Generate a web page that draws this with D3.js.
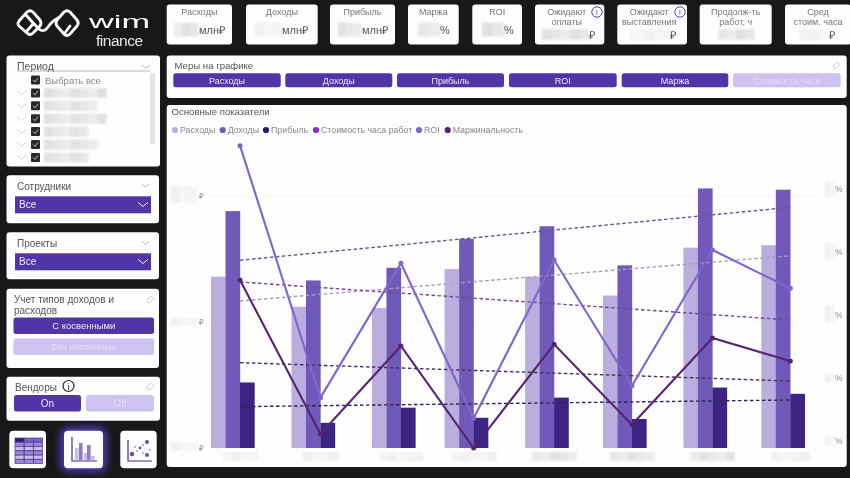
<!DOCTYPE html>
<html>
<head>
<meta charset="utf-8">
<script src="https://cdn.jsdelivr.net/npm/d3@7"></script>
<style>
  html, body { margin: 0; padding: 0; background: #18181a; overflow: hidden; }
  svg { display: block; filter: blur(0.35px); }
  text { font-family: "Liberation Sans", Arial, sans-serif; }
</style>
</head>
<body>
<svg id="dash" width="850" height="478"></svg>
<script>
// month starts, the axis is a real date axis (the february gap is narrower)
var months = ["2022-12-01", "2023-01-01", "2023-02-01", "2023-03-01", "2023-04-01", "2023-05-01", "2023-06-01", "2023-07-01"];

// left axis series
var expenses = [1.36, 1.12, 1.11, 1.42, 1.36, 1.21, 1.59, 1.61];
var income = [1.88, 1.33, 1.43, 1.66, 1.76, 1.45, 2.06, 2.05];
var profit = [0.52, 0.20, 0.32, 0.24, 0.40, 0.23, 0.48, 0.43];

// right axis series
var roi = [117.2, 17.2, 70.5, 9, 71.8, 21.9, 75.8, 60.6];
var margin = [63.9, 2.8, 37.7, -2.8, 38.4, 6.5, 40.9, 31.7];

// trend lines, first and last month
var incomeTrend = [1.49, 1.91];
var expensesTrend = [1.167, 1.526];
var profitTrend = [0.328, 0.381];
var roiTrend = [63.1, 48];
var marginTrend = [31.1, 23.8];

var leftTicks = [0, 1, 2];
var rightTicks = [0, 25, 50, 75, 100];

var legendNames = ["Расходы", "Доходы", "Прибыль", "Стоимость часа работ", "ROI", "Маржинальность"];
var measureNames = ["Расходы", "Доходы", "Прибыль", "ROI", "Маржа", "Стоимость часа"];

var DARK = "#4f35a5", LIGHT = "#cdc2f0", PANEL = "#fefdff", INK = "#444", GREY = "#777";
var C_EXP = "#b9aedd", C_INC = "#7059b9", C_PROF = "#3c2582", C_ROI = "#8065cb", C_MARG = "#55246f";
var legendColors = [C_EXP, C_INC, "#2a1a74", "#8a2bd0", C_ROI, C_MARG];

var svg = d3.select("#dash");
var defs = svg.append("defs");
defs.append("filter").attr("id", "soft").append("feGaussianBlur").attr("stdDeviation", 0.9);
var glowF = defs.append("filter").attr("id", "glow").attr("x", "-40%").attr("y", "-40%").attr("width", "180%").attr("height", "180%");
glowF.append("feGaussianBlur").attr("stdDeviation", 4);

function panel(x0, y0, x1, y1, r) {
  return svg.append("rect").attr("x", x0).attr("y", y0).attr("width", x1 - x0).attr("height", y1 - y0)
    .attr("rx", r || 3).attr("fill", PANEL);
}

function label(x, y, s, size, color, anchor, g) {
  return (g || svg).append("text").attr("x", x).attr("y", y).text(s)
    .attr("font-size", size).attr("fill", color || INK).attr("text-anchor", anchor || "start");
}

// mosaic for the values that are blurred out in the picture
var shades = ["#ececee", "#f4f4f5", "#e1e1e3", "#f0f0f1", "#e7e7e9", "#f6f6f7"];
function redact(x, y, w, h, g) {
  var n = Math.max(2, Math.round(w / 9));
  var box = (g || svg).append("g").attr("filter", "url(#soft)");
  d3.range(n).forEach(function(i) {
    box.append("rect").attr("x", x + i * w / n).attr("y", y).attr("width", w / n + 0.5).attr("height", h)
      .attr("fill", shades[(i * 2 + Math.round(x)) % shades.length]);
  });
}

function chevron(x, y, w, color, sw) {
  svg.append("path").attr("d", d3.line()([[x, y], [x + w / 2, y + w * 0.42], [x + w, y]]))
    .attr("fill", "none").attr("stroke", color).attr("stroke-width", sw || 0.8);
}

function button(x0, y0, x1, y1, s, on, size) {
  panel(x0, y0, x1, y1, 2.5).attr("fill", on ? DARK : LIGHT);
  label((x0 + x1) / 2, (y0 + y1) / 2 + 3.5, s, size || 9.5, on ? "#eee9fb" : "#e4dcf8", "middle");
}

function eraser(x, y) {
  svg.append("path").attr("d", "M" + (x - 4) + "," + (y + 1) + "l4,-4l3,2.5l-4,4h-2z")
    .attr("fill", "none").attr("stroke", "#bbb").attr("stroke-width", 0.7);
}

function info(x, y, r) {
  svg.append("circle").attr("cx", x).attr("cy", y).attr("r", r).attr("fill", "#fff").attr("stroke", "#5a3fb0").attr("stroke-width", 1);
  label(x, y + 3, "i", 8, "#5a3fb0", "middle");
}

// logo
var logo = svg.append("g").attr("fill", "none").attr("stroke", "#fff").attr("stroke-width", 2.8).attr("stroke-linejoin", "round").attr("stroke-linecap", "round");
logo.append("path").attr("d", "M19,21 L27,12 Q30,9.5 33,12 L40,20 Q42,23 40,26 L33,33 Q30,36 27,33 L19,26 Q17,23.5 19,21 Z");
logo.append("path").attr("d", "M57,20 L64,12 Q67,9.5 70,12 L77,20 Q79.5,23 77,26 L70,34 Q67,37 64,34 L57,26 Q55,23 57,20 Z");
logo.append("path").attr("d", "M26,15 Q33,23 39,29 Q44,33 48,27 Q52,21 58,18");
logo.append("path").attr("d", "M26,32 L33,24 M64,34 L70,26");
svg.append("text").attr("x", 89).attr("y", 28).text("wim").attr("font-size", 18).attr("fill", "#fff")
  .attr("textLength", 61).attr("lengthAdjust", "spacingAndGlyphs").attr("font-family", "DejaVu Sans");
label(96, 46, "finance", 15.5, "#e8e8e8").attr("font-family", "Open Sans").attr("textLength", 47);

// kpi cards
var kpis = [
  { x0: 166.7, x1: 232, t: ["Расходы"], b: [174, 24], unit: "млн₽", ux: 199 },
  { x0: 246, x1: 317.7, t: ["Доходы"], b: [255, 28], unit: "млн₽", ux: 282 },
  { x0: 330, x1: 395, t: ["Прибыль"], b: [338, 23], unit: "млн₽", ux: 362 },
  { x0: 408, x1: 458.7, t: ["Маржа"], b: [418, 22], unit: "%", ux: 440 },
  { x0: 472.3, x1: 522, t: ["ROI"], b: [482, 22], unit: "%", ux: 504 },
  { x0: 535, x1: 604.3, t: ["Ожидают", "оплаты"], b: [542, 47], unit: "₽", ux: 589, low: 1, i: 597 },
  { x0: 617.3, x1: 687, t: ["Ожидают", "выставления"], b: [629, 41], unit: "₽", ux: 670, low: 1, i: 680 },
  { x0: 699.7, x1: 771.7, t: ["Продолж-ть", "работ, ч"], b: [718, 36], unit: "", ux: 0, low: 1 },
  { x0: 785, x1: 851, t: ["Сред", "стоим. часа"], b: [799, 27], unit: "₽", ux: 829, low: 1 }
];
kpis.forEach(function(k) {
  panel(k.x0, 4.5, k.x1, 44.5, 3);
  var cx = (k.x0 + k.x1) / 2 - (k.i ? 3 : 0);
  k.t.forEach(function(s, i) { label(cx, 14.5 + i * 10.3, s, 9, GREY, "middle"); });
  if (k.low) redact(k.b[0], 29, k.b[1], 11); else redact(k.b[0], 22.5, k.b[1], 14);
  if (k.unit) label(k.ux, k.low ? 39 : 34, k.unit, 11, "#555");
  if (k.i) info(k.i, 12, 5.2);
});

// period filter
panel(6.5, 55.5, 160, 166.5);
label(17, 70, "Период", 10.5, "#555");
svg.append("line").attr("x1", 17).attr("x2", 150).attr("y1", 71).attr("y2", 71).attr("stroke", "#999").attr("stroke-width", 0.7);
chevron(142, 65, 8, "#aaa");
svg.append("rect").attr("x", 150).attr("y", 73).attr("width", 5).attr("height", 71).attr("fill", "#e5e5e7");
var rowW = [62, 53, 62, 44, 53, 44];
d3.range(7).forEach(function(i) {
  var y = 80 + i * 12.9;
  svg.append("rect").attr("x", 31).attr("y", y - 4.5).attr("width", 9).attr("height", 9).attr("rx", 1).attr("fill", "#29292b");
  svg.append("path").attr("d", d3.line()([[33, y], [35, y + 2], [38, y - 2]])).attr("fill", "none").attr("stroke", "#ddd").attr("stroke-width", 0.8);
  if (i === 0) {
    label(45, y + 3.5, "Выбрать все", 9.5, "#888");
  } else {
    redact(44, y - 5, rowW[i - 1], 10);
    chevron(17, y - 2, 9, "#ccc");
  }
});

// dropdowns
[[175.3, 223.3, "Сотрудники"], [232.3, 279.3, "Проекты"]].forEach(function(d) {
  panel(6.5, d[0], 159, d[1]);
  label(17, d[0] + 15, d[2], 10, "#555");
  chevron(142, d[0] + 9, 7, "#aaa");
  svg.append("rect").attr("x", 15).attr("y", d[0] + 21).attr("width", 136).attr("height", 17).attr("fill", DARK);
  label(19, d[0] + 33, "Все", 10, "#eee9fb");
  chevron(138, d[0] + 27, 10, "#eee9fb", 1);
});

// income type switch
panel(6.5, 288.7, 159, 368);
label(14, 303, "Учет типов доходов и", 10, "#555");
label(14, 314, "расходов", 10, "#555");
eraser(151, 299);
button(13.5, 317.5, 154, 334, "С косвенными", true);
button(13.5, 338.5, 154, 355, "Без косвенных", false);

// vendors switch
panel(6.5, 376.7, 160, 420.7);
label(15, 391, "Вендоры", 10, "#555");
svg.append("circle").attr("cx", 68.5).attr("cy", 386).attr("r", 5.5).attr("fill", "#fff").attr("stroke", "#222").attr("stroke-width", 1.2);
label(68.5, 389.5, "i", 9, "#222", "middle");
eraser(151, 386);
button(14, 395, 81, 411.5, "On", true, 10);
button(86, 395, 154, 411.5, "Off", false, 10);

// nav icons
svg.append("rect").attr("x", 61).attr("y", 428).attr("width", 45).attr("height", 43).attr("rx", 6).attr("fill", "#5a3fd0").attr("filter", "url(#glow)");
panel(9.3, 430.7, 46, 468.3, 4);
panel(64, 430.7, 103, 468.3, 4);
panel(120.3, 430.7, 156.7, 468.3, 4);
// table icon
d3.range(6).forEach(function(r) {
  d3.range(3).forEach(function(c) {
    svg.append("rect").attr("x", 15 + c * 9.3).attr("y", 438 + r * 4.3).attr("width", 9).attr("height", 4)
      .attr("fill", r === 0 && c === 0 ? "#2e1a70" : (r === 0 ? "#7c65c0" : (r % 2 ? "#9d88d6" : "#cabdea"))).attr("stroke", "#4f3599").attr("stroke-width", 0.7);
  });
});
// bars icon
var iconBars = [[75, 12, "#c9bdea"], [79, 17, "#8f7bcb"], [84, 7, "#c9bdea"], [87, 15, "#8f7bcb"], [91, 4, "#c9bdea"]];
iconBars.forEach(function(b) {
  svg.append("rect").attr("x", b[0]).attr("y", 460 - b[1]).attr("width", 3.6).attr("height", b[1]).attr("fill", b[2]);
});
[[72, 437, 72, 461, 97, 461], [128, 440, 128, 461, 152, 461]].forEach(function(p) {
  svg.append("path").attr("d", "M" + p[0] + "," + p[1] + "L" + p[2] + "," + p[3] + "L" + p[4] + "," + p[5])
    .attr("fill", "none").attr("stroke", "#4a2a80").attr("stroke-width", 1.2);
});
// scatter icon
[[132, 454, 2.2], [147, 442, 2], [147, 455, 2], [140, 448, 1.4], [135, 447, 0.8], [143, 445, 0.8], [137, 451, 0.8], [150, 450, 0.8], [143, 453, 0.8]].forEach(function(p) {
  svg.append("circle").attr("cx", p[0]).attr("cy", p[1]).attr("r", p[2]).attr("fill", "#6a48bd");
});

// measures panel
panel(166.7, 55.5, 846.7, 98);
label(174.5, 69, "Меры на графике", 9.6, "#555");
eraser(837, 65);
var measureEdges = [[173.3, 280.7], [285.3, 392.3], [397, 504], [509, 616.7], [621.7, 728.3], [733, 840.7]];
measureNames.forEach(function(s, i) {
  button(measureEdges[i][0], 73.3, measureEdges[i][1], 87.3, s, i < 5, 9);
});

// chart panel
panel(166.7, 105, 846.7, 467);
label(171.5, 115, "Основные показатели", 9.6, "#555");

var legendDots = [175, 222.7, 266, 316, 419, 447.7];
legendNames.forEach(function(s, i) {
  svg.append("circle").attr("cx", legendDots[i]).attr("cy", 130).attr("r", 3.1).attr("fill", legendColors[i]);
  label(legendDots[i] + 5, 133, s, 8.8, "#888");
});

// scales
var parse = d3.utcParse("%Y-%m-%d");
var dates = months.map(parse);
var x = d3.scaleUtc().domain([dates[0], dates[7]]).range([240, 790.3]);
var y = d3.scaleLinear().domain([0, 2]).range([448, 196]);
var yR = d3.scaleLinear().domain([0, 100]).range([441, 189]);
var barW = 14.5;

// left axis with dotted grid
var gLeft = svg.append("g").attr("transform", "translate(204,0)")
  .call(d3.axisLeft(y).tickValues(leftTicks).tickSize(0).tickPadding(0).tickFormat(function() { return "₽"; }));
gLeft.select(".domain").remove();
gLeft.selectAll("text").attr("font-size", 8).attr("fill", "#888").attr("font-family", "DejaVu Sans");
svg.append("g").selectAll("line").data(leftTicks).join("line")
  .attr("x1", 208).attr("x2", 820).attr("y1", y).attr("y2", y)
  .attr("stroke", "#dcdcdc").attr("stroke-width", 0.8).attr("stroke-dasharray", "1 3");
redact(171, 186, 26, 17);
redact(171, 318, 26, 8);
redact(171, 442, 26, 9);

// right axis
var gRight = svg.append("g").attr("transform", "translate(835,0)")
  .call(d3.axisRight(yR).tickValues(rightTicks).tickSize(0).tickPadding(0).tickFormat(function() { return "%"; }));
gRight.select(".domain").remove();
gRight.selectAll("text").attr("font-size", 8.5).attr("fill", "#888");
redact(825, 181, 9, 16);
redact(825, 243, 9, 17);
redact(825, 305, 9, 18);
redact(825, 374, 9, 9);
redact(825, 436, 9, 9);

// bottom axis labels are blurred
var xLabelW = [35, 35, 43, 45, 44, 44, 44, 38];
dates.forEach(function(d, i) {
  redact(x(d) - xLabelW[i] / 2, 452, xLabelW[i], 9);
});

// bars
[[expenses, C_EXP, -2], [income, C_INC, -1], [profit, C_PROF, 0]].forEach(function(s) {
  svg.append("g").selectAll("rect").data(s[0]).join("rect")
    .attr("x", function(d, i) { return x(dates[i]) + s[2] * barW; })
    .attr("y", function(d) { return y(d); })
    .attr("width", barW + 0.2)
    .attr("height", function(d) { return y(0) - y(d); })
    .attr("fill", s[1]);
});

// trend lines
var ends = [dates[0], dates[7]];
[[incomeTrend, y, "#65558f"], [expensesTrend, y, "#a79fb8"], [roiTrend, yR, "#6d4a96"], [marginTrend, yR, "#47305f"], [profitTrend, y, "#2e2458"]].forEach(function(t) {
  svg.append("path")
    .attr("d", d3.line().x(function(d, i) { return x(ends[i]); }).y(function(d) { return t[1](d); })(t[0]))
    .attr("fill", "none").attr("stroke", t[2]).attr("stroke-width", 1.4).attr("stroke-dasharray", "3.5 2.5");
});

// lines with markers
[[roi, C_ROI], [margin, C_MARG]].forEach(function(s) {
  svg.append("path")
    .attr("d", d3.line().x(function(d, i) { return x(dates[i]); }).y(function(d) { return yR(d); })(s[0]))
    .attr("fill", "none").attr("stroke", s[1]).attr("stroke-width", 2.1);
  svg.append("g").selectAll("circle").data(s[0]).join("circle")
    .attr("cx", function(d, i) { return x(dates[i]); })
    .attr("cy", function(d) { return yR(d); })
    .attr("r", 2.5).attr("fill", s[1]);
});
</script>
</body>
</html>
